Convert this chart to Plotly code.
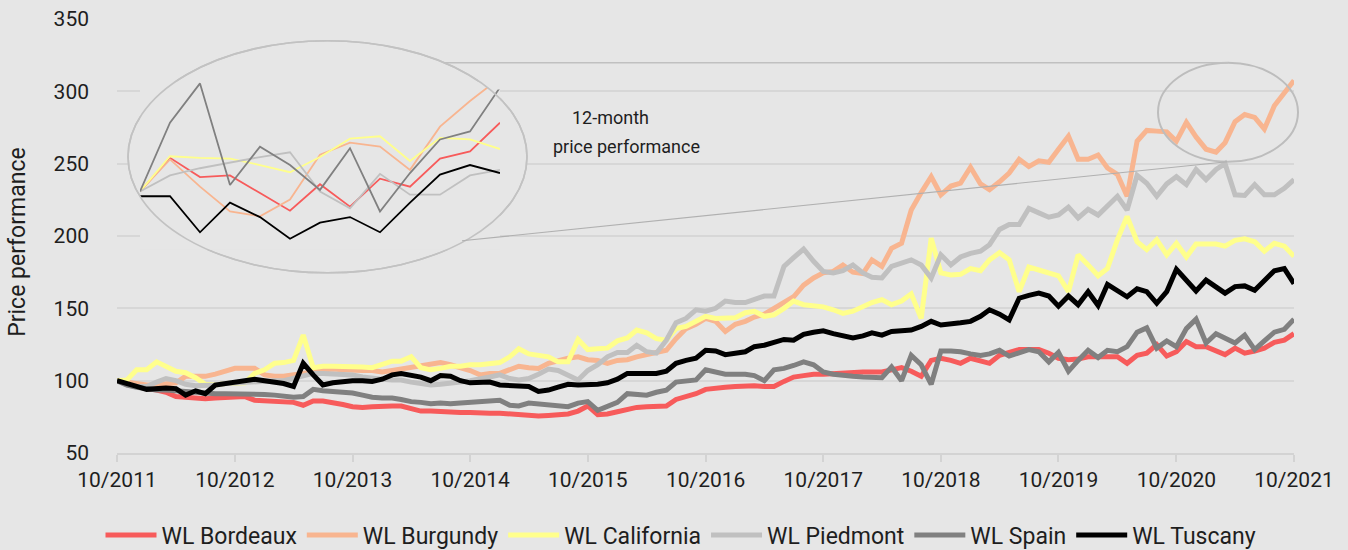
import plotly.graph_objects as go
import pandas as pd

# ---------------- data ----------------
dates = pd.date_range("2011-10-01", periods=121, freq="MS")

bordeaux = [100, 98, 96, 94.5, 93.5, 92, 89, 88.5, 88, 87.5, 88, 88.5, 88.5, 89, 86.5, 86, 86, 85.5, 85, 83,
            86, 86, 85, 83.5, 82, 81.5, 82, 82.5, 82.5, 82.5, 80.5, 79, 79, 78.5, 78.5, 78, 78, 77.5, 77.5, 77.5,
            77, 76.5, 76, 75.5, 76, 76.5, 77, 79, 82.5, 76.5, 77, 78.5, 80, 81.5, 82, 82.5, 82.5, 87, 89, 91,
            94, 95, 95.5, 96, 96.5, 96.5, 96, 96, 99.5, 102.5, 103.5, 104.5, 104.5, 105, 105.5, 106, 106, 106, 106, 107.5,
            109, 106.5, 103, 114, 115.5, 114, 112, 115.5, 113.5, 112, 117.5, 119.5, 121.5, 121.5, 121.5, 119, 115.5, 114.5, 115, 116.5,
            116.5, 116.5, 116.5, 112, 117.5, 119, 125, 117, 120, 127, 123.5, 123.5, 121, 118, 122.5, 119, 120.5, 122.5, 126.5, 128,
            132.5]

burgundy = [100, 99, 98, 97, 97, 97.5, 98.5, 103, 103, 103, 104.5, 106.5, 108.5, 108.5, 108.5, 104, 103, 103, 104, 105,
            106, 107, 108, 107.5, 107, 107, 107, 106, 107, 108, 109, 110, 111, 112.5, 111, 109, 107, 104, 105, 105,
            107.5, 110, 109, 108.5, 112, 114, 115.5, 116.5, 114.5, 114, 112, 114, 114.5, 116.5, 118, 119.5, 121, 129, 136, 139,
            143, 141, 134, 139, 141, 144, 146, 150, 154, 158, 166, 171, 174.5, 175.5, 180, 175, 174, 183.5, 179, 191.5,
            195, 218, 230, 241, 228.5, 234.5, 236.5, 247.5, 236, 232, 237.5, 243.5, 253, 248, 252, 251, 260, 269, 253, 253,
            256, 247, 242.5, 227.5, 265.5, 273, 272.5, 272, 265.5, 278.5, 268.5, 260, 258, 264.5, 279, 284, 282, 274, 290, 299,
            307.5]

california = [100, 100.5, 107.5, 107.5, 113, 110, 106.5, 105.5, 102, 97.5, 97, 98, 98, 98.5, 105, 107.5, 112, 112.5, 114, 131.5,
              109, 110, 110, 110, 109.5, 109.5, 109, 111, 113.5, 113.5, 116.5, 109, 107.5, 108.5, 110, 110, 111, 111, 111.5, 112.5,
              116.5, 122, 118.5, 117.5, 116.5, 113, 113, 128.5, 121.5, 122, 122.5, 127.5, 129.5, 135, 133, 129, 128, 136, 137.5, 141,
              144.5, 143, 143, 143.5, 147, 148, 144.5, 145.5, 150, 155, 152.5, 152, 151, 149, 146.5, 148, 151.5, 154, 156, 152.5,
              155, 160, 143, 198.5, 174.5, 173, 173.5, 177.5, 176, 183.5, 188.5, 183.5, 161.5, 178.5, 176.5, 174.5, 172.5, 161.5, 187, 180,
              172.5, 177.5, 197.5, 213.5, 196, 190.5, 197.5, 187, 195, 185.5, 194.5, 194.5, 194.5, 193, 197, 198, 196, 189.5, 195, 193,
              186]

piedmont = [100, 97, 96, 96, 99, 101.5, 100, 97.5, 96.5, 96.5, 97, 98, 98.5, 99, 99, 99.5, 100, 100, 101.5, 103,
            105, 105, 104.5, 104, 104, 102.5, 101.5, 101, 100.5, 100.5, 99, 98, 97, 97.5, 98, 99, 100, 101, 102.5, 104,
            101.5, 100.5, 101.5, 104.5, 108, 107, 104, 100.5, 107, 111, 116.5, 119.5, 119.5, 124.5, 120, 119, 128, 140, 143, 149,
            148, 150, 155, 154, 154, 156, 158.5, 158.5, 179, 185, 191, 182.5, 175.5, 174.5, 176, 180, 174.5, 171.5, 171, 179,
            181, 183.5, 180, 171, 187, 180, 185.5, 188, 189.5, 194, 204.5, 208, 208, 219, 216, 213, 214.5, 220, 212.5, 218.5,
            214.5, 220.5, 227.5, 218, 242, 236.5, 227.5, 236, 241, 235.5, 246, 239, 246, 250, 228.5, 228, 235.5, 228.5, 228.5, 233,
            239]

spain = [100, 97, 95.5, 94.5, 93.5, 93.5, 93, 92, 91.5, 91.5, 91, 91, 91, 91, 91, 90.5, 90, 89, 88.5, 89,
         94, 93, 92.5, 92.5, 91.5, 90, 88.5, 88, 88, 87, 85.5, 85, 84, 84.5, 84, 84.5, 85, 86, 86.5, 86.5,
         83, 82.5, 84.5, 84, 83.5, 83, 82, 84.5, 85.5, 79.5, 82, 85, 91, 90.5, 90, 92, 93.5, 99, 99.5, 100.5,
         107.5, 106, 104.5, 104.5, 104.5, 103.5, 100, 107.5, 108.5, 110.5, 113, 111, 106, 104.5, 103.5, 103, 102.5, 102, 102, 109.5,
         100, 117.5, 111, 97.5, 120.5, 120.5, 120, 118.5, 117.5, 118.5, 121, 117, 119.5, 121.5, 120, 113, 119.5, 106.5, 114, 121,
         116, 121, 120, 123.5, 133.5, 136.5, 122.5, 127.5, 123.5, 136, 142.5, 126, 132.5, 129.5, 126, 131.5, 121.5, 127.5, 133.5, 135.5,
         142.5]

tuscany = [100, 97.5, 96, 94, 94.5, 95, 94.5, 90, 93, 91, 97, 98, 99.5, 100, 101, 100, 99, 98, 96, 112,
           104, 97, 98.5, 99.5, 100, 100, 99.5, 101, 104, 105, 104, 102.5, 100, 103.5, 103, 100, 98.5, 98.5, 99, 97,
           96.5, 96, 96, 92.5, 93.5, 95.5, 97.5, 97, 97, 97.5, 98.5, 101, 105, 105, 105, 105, 106.5, 112, 114, 115.5,
           121, 120.5, 118, 119, 120, 123.5, 124.5, 126.5, 128.5, 128, 132, 133.5, 134.5, 132.5, 131, 129.5, 131, 133, 131.5, 134,
           134.5, 135, 137.5, 141, 138.5, 139, 140, 141, 144.5, 149, 146, 142, 157, 159, 160.5, 158.5, 151.5, 158.5, 152.5, 161.5,
           152, 166.5, 162, 158, 163.5, 161.5, 153.5, 161.5, 177, 170, 162, 169.5, 165, 160.5, 165, 165.5, 162.5, 169.5, 176, 177.5,
           167]

tick_dates = ["2011-10-01", "2012-10-01", "2013-10-01", "2014-10-01", "2015-10-01", "2016-10-01",
              "2017-10-01", "2018-10-01", "2019-10-01", "2020-10-01", "2021-10-01"]
tick_text = ["10/2011", "10/2012", "10/2013", "10/2014", "10/2015", "10/2016",
             "10/2017", "10/2018", "10/2019", "10/2020", "10/2021"]
y_ticks = [50, 100, 150, 200, 250, 300, 350]

# inset: 12-month price performance (rebased)
inset_steps = list(range(13))
inset_bordeaux = [100, 104.2, 101.8, 102.0, 99.8, 97.6, 100.9, 98.1, 101.6, 100.6, 104.1, 105.0, 108.6]
inset_burgundy = [100, 104.0, 100.6, 97.5, 96.9, 99.0, 104.6, 106.1, 105.6, 102.7, 108.1, 111.3, 114.2]
inset_california = [100, 104.4, 104.2, 104.1, 103.3, 102.4, 104.3, 106.6, 106.9, 103.8, 106.7, 106.5, 105.3]
inset_piedmont = [100, 102.0, 102.9, 103.6, 104.3, 104.9, 100.0, 97.9, 102.2, 99.6, 99.6, 102.0, 102.7]
inset_spain = [100, 108.6, 113.5, 100.8, 105.6, 103.3, 100.2, 105.4, 97.5, 102.3, 106.5, 107.5, 113.0]
inset_tuscany = [99.4, 99.4, 94.9, 98.6, 96.8, 94.1, 96.1, 96.8, 94.9, 98.6, 102.1, 103.3, 102.3]

names = ["WL Bordeaux", "WL Burgundy", "WL California", "WL Piedmont", "WL Spain", "WL Tuscany"]
colors = ["#f75b5b", "#f8b590", "#ffff8c", "#c0c0c0", "#808080", "#000000"]

# ---------------- figure ----------------
BG = "#e6e6e6"
FONT = "Roboto"
TXT = "#1e1e1e"

# plot-area geometry (pixels) used to place decorations in paper units
PL, PR, PT, PB = 117, 1294, 19.3, 453.1


def px_x(px):
    return (px - PL) / (PR - PL)


def px_y(py):
    return (PB - py) / (PB - PT)


fig = go.Figure()

main_series = [bordeaux, burgundy, california, piedmont, spain, tuscany]
for name, col, vals in zip(names, colors, main_series):
    fig.add_trace(go.Scatter(x=dates, y=vals, name=name, mode="lines",
                             line=dict(color=col, width=5), hoverinfo="skip"))

inset_series = [inset_bordeaux, inset_burgundy, inset_california, inset_piedmont, inset_spain, inset_tuscany]
for name, col, vals in zip(names, colors, inset_series):
    fig.add_trace(go.Scatter(x=inset_steps, y=vals, name=name, mode="lines",
                             line=dict(color=col, width=1.8), showlegend=False,
                             xaxis="x2", yaxis="y2", hoverinfo="skip"))

fig.update_layout(
    width=1348, height=550,
    margin=dict(l=117, r=54, t=19, b=97, autoexpand=False),
    paper_bgcolor=BG, plot_bgcolor=BG,
    font=dict(family=FONT, color=TXT, size=21),
    showlegend=True,
    legend=dict(orientation="h", xref="container", yref="container",
                x=681 / 1348, xanchor="center", y=1 - 535 / 550, yanchor="middle",
                font=dict(size=23, family=FONT, color=TXT), bgcolor="rgba(0,0,0,0)",
                itemwidth=51, tracegroupgap=0),
    xaxis=dict(type="date", range=[dates[0], dates[-1]], tickvals=tick_dates, ticktext=tick_text,
               showgrid=False, zeroline=False, showline=True, linecolor="#d3d3d3", linewidth=1.5,
               ticks="outside", ticklen=7, tickwidth=1.5, tickcolor="#d3d3d3",
               tickfont=dict(size=21, family=FONT, color=TXT)),
    yaxis=dict(range=[50, 350], tickvals=y_ticks, showgrid=True, gridcolor="#d7d7d7", gridwidth=1.5,
               zeroline=False, showline=False, ticks="", ticklabelstandoff=27,
               tickfont=dict(size=21, family=FONT, color=TXT)),
    xaxis2=dict(domain=[px_x(140), px_x(500)], anchor="y2", range=[0, 12], visible=False),
    yaxis2=dict(domain=[px_y(250), px_y(82)], anchor="x2", range=[92.71, 113.71], visible=False),
)

# inset ellipse position expressed on the main axes (between gridlines and traces)
t0, t1 = dates[0], dates[-1]
span = t1 - t0
ex0, ex1 = px_x(128), px_x(527)
ey0, ey1 = px_y(273), px_y(41)

# mask that hides the part of the inset lines poking out of the ellipse (top right)
mask_pts = [(478, 80.8), (484, 85.1), (490, 89.7), (512, 89.7), (512, 70), (478, 70)]
mask_path = "M" + " L".join(f"{px_x(a):.5f},{px_y(b):.5f}" for a, b in mask_pts) + " Z"

shapes = [
    dict(type="circle", xref="x", yref="y",
         x0=str(t0 + span * ex0), x1=str(t0 + span * ex1),
         y0=50 + 300 * ey0, y1=50 + 300 * ey1,
         fillcolor=BG, line=dict(color="#c2c2c2", width=1.6), layer="between"),
    dict(type="path", xref="paper", yref="paper", path=mask_path,
         fillcolor=BG, line=dict(width=0), layer="above"),
    dict(type="circle", xref="paper", yref="paper", x0=ex0, x1=ex1, y0=ey0, y1=ey1,
         fillcolor="rgba(0,0,0,0)", line=dict(color="#c2c2c2", width=1.6), layer="above"),
    # small ellipse marking last 12 months
    dict(type="circle", xref="paper", yref="paper", x0=px_x(1158), x1=px_x(1298), y0=px_y(162), y1=px_y(63),
         fillcolor="rgba(0,0,0,0)", line=dict(color="#bdbdbd", width=2), layer="above"),
    # connector lines
    dict(type="line", xref="paper", yref="paper", x0=px_x(444), x1=px_x(1228), y0=px_y(63), y1=px_y(63),
         line=dict(color="#c0c0c0", width=1.5), layer="above"),
    dict(type="line", xref="paper", yref="paper", x0=px_x(462), x1=px_x(1227), y0=px_y(241), y1=px_y(162),
         line=dict(color="#b0b0b0", width=1.1), layer="above"),
]
fig.update_layout(shapes=shapes)

fig.add_annotation(text="12-month", xref="paper", yref="paper",
                   x=px_x(610.5), y=px_y(118), xanchor="center", yanchor="middle", showarrow=False,
                   font=dict(size=18, family=FONT, color=TXT))
fig.add_annotation(text="price performance", xref="paper", yref="paper",
                   x=px_x(626.5), y=px_y(147), xanchor="center", yanchor="middle", showarrow=False,
                   font=dict(size=18, family=FONT, color=TXT))
fig.add_annotation(text="Price performance", xref="paper", yref="paper",
                   x=px_x(18), y=px_y(243), xanchor="center", yanchor="middle", showarrow=False,
                   textangle=-90, font=dict(size=23, family=FONT, color=TXT))

fig.write_html("out.html", config={"displayModeBar": False},
               post_script="document.body.style.margin='0px';")
